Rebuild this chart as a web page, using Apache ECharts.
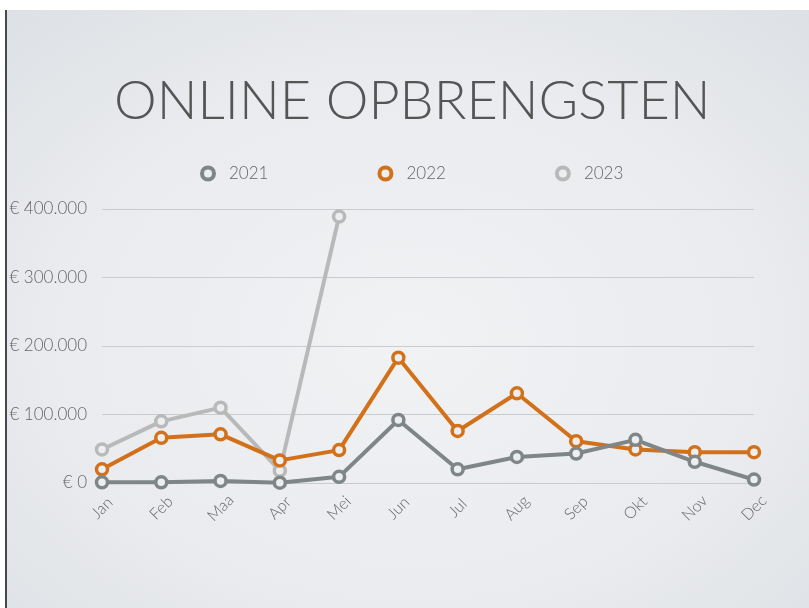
<!DOCTYPE html>
<html>
<head>
<meta charset="utf-8">
<script src="https://cdn.jsdelivr.net/npm/echarts@6/dist/echarts.min.js"></script>
<style>
  html, body { margin: 0; padding: 0; width: 809px; height: 608px; background: #ffffff; overflow: hidden; }
  #slide { position: absolute; left: 5px; top: 10px; width: 804px; height: 598px;
    border-left: 2px solid #444a4e;
    background: radial-gradient(ellipse 75% 75% at 50% 55%, #f1f2f4 0%, #e9ebee 60%, #dde0e4 100%); }
  #chart { position: absolute; left: 0; top: 0; width: 809px; height: 608px; }
</style>
</head>
<body>
<div id="slide"></div>
<div id="chart"></div>
<script>
const categories = ['Jan', 'Feb', 'Maa', 'Apr', 'Mei', 'Jun', 'Jul', 'Aug', 'Sep', 'Okt', 'Nov', 'Dec'];
const seriesNames = ['2021', '2022', '2023'];
const values2021 = [1000, 1000, 3000, 500, 9000, 92000, 20000, 38000, 43000, 63000, 31000, 5000];
const values2022 = [20000, 66000, 71000, 33000, 48000, 183000, 76000, 131000, 61000, 49000, 45000, 45000];
const values2023 = [49000, 90000, 110000, 18000, 389000, null, null, null, null, null, null, null];
const yTickValues = [0, 100000, 200000, 300000, 400000];
const yTickLabels = ['€ 0', '€ 100.000', '€ 200.000', '€ 300.000', '€ 400.000'];
const colors = { '2021': '#7f8687', '2022': '#d2711a', '2023': '#b9b9b9' };

const FONT = 'Lato';
const chart = echarts.init(document.getElementById('chart'), null, { renderer: 'canvas' });

function lineSeries(name, data, z) {
  return {
    name: name, type: 'line', data: data, z: z,
    symbol: 'circle', symbolSize: 11, showAllSymbol: true,
    lineStyle: { width: 4, color: colors[name] },
    itemStyle: { color: '#eceef0', borderColor: colors[name], borderWidth: 3.5 },
    emphasis: { disabled: true }
  };
}

chart.setOption({
  backgroundColor: 'transparent',
  animation: false,
  title: {
    text: 'ONLINE OPBRENGSTEN', left: 109, top: 70,
    textStyle: { fontFamily: FONT, fontWeight: 300, fontSize: 54, color: '#555555' }
  },
  legend: {
    data: seriesNames.map(n => ({
      name: n, icon: 'circle',
      itemStyle: { color: '#eceef0', borderColor: colors[n], borderWidth: 4 }
    })),
    top: 160, left: 195, itemGap: 109,
    itemWidth: 32, itemHeight: 12,
    textStyle: { fontFamily: FONT, fontWeight: 300, fontSize: 17, color: '#666666' }
  },
  grid: { left: 102, right: 55, top: 209, bottom: 125, containLabel: false },
  xAxis: {
    type: 'category', data: categories, boundaryGap: false,
    axisLine: { show: false }, axisTick: { show: false },
    axisLabel: { rotate: 45, margin: 25, align: 'center', verticalAlign: 'middle',
      fontFamily: FONT, fontWeight: 300, fontSize: 16, color: '#666666' }
  },
  yAxis: {
    type: 'value', min: 0, max: 400000, interval: 100000,
    axisLine: { show: false }, axisTick: { show: false },
    splitLine: { lineStyle: { color: '#c9cbce', width: 1 } },
    axisLabel: {
      margin: 15, fontFamily: FONT, fontWeight: 300, fontSize: 17, color: '#666666',
      formatter: function (v) { const i = yTickValues.indexOf(v); return i >= 0 ? yTickLabels[i] : ''; }
    }
  },
  series: [
    lineSeries('2023', values2023, 2),
    lineSeries('2022', values2022, 3),
    lineSeries('2021', values2021, 4)
  ]
});
</script>
</body>
</html>
